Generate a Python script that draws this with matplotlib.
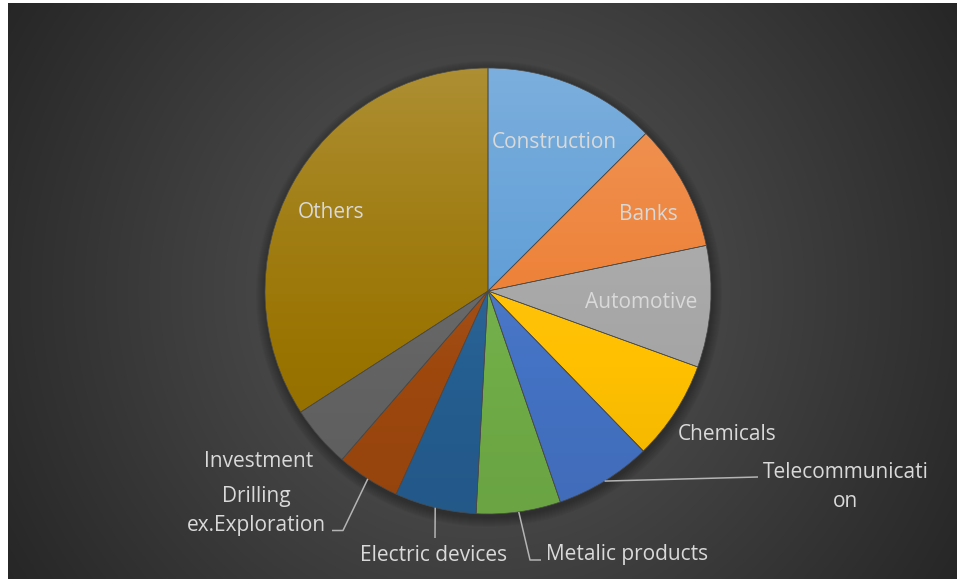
import numpy as np
import matplotlib
matplotlib.use("Agg")
import matplotlib.pyplot as plt
from matplotlib.patches import Circle
from matplotlib.colors import to_rgb

# ---------------- data ----------------
categories = ["Construction", "Banks", "Automotive", "Chemicals", "Telecommunication",
              "Metalic products", "Electric devices", "Drilling ex.Exploration",
              "Investment", "Others"]
shares = [12.5, 9.2, 8.8, 7.2, 7.0, 6.1, 5.9, 4.6, 4.5, 34.1]
label_texts = ["Construction", "Banks", "Automotive", "Chemicals", "Telecommunicati\non",
               "Metalic products", "Electric devices", "Drilling\nex.Exploration",
               "Investment", "Others"]

# ---------------- style / layout ----------------
colors = ["#5B9BD5", "#ED7D31", "#A5A5A5", "#FFC000", "#4472C4",
          "#70AD47", "#255E91", "#9E480E", "#636363", "#997300"]
W, H = 957, 579
CX, CY_IMG, R = 488, 291, 223
CY = H - CY_IMG
FONT = "Open Sans"
FS = 15
TXT = "#D9D9D9"
LINE_GAP = 29
TEXT_DY = 2.5
# label centre positions in image pixel coords (layout)
label_pos = [(554, 140), (648, 212), (641, 300), (727, 432), (846, 484.5),
             (627, 552), (434, 553), (256, 508.5), (259, 459), (331, 210)]
# leader line waypoints (image coords), None when label sits inside
leaders = [None, None, None, None, [(758, 477)],
           [(530, 560), (541, 560)], [(435, 538)], [(343, 530.5), (332, 530.5)],
           None, None]

fig = plt.figure(figsize=(W / 100, H / 100), dpi=100)
ax = fig.add_axes([0, 0, 1, 1])

# background: radial gradient, white margin on left/top
yy, xx = np.mgrid[0:H, 0:W]
d = np.sqrt((xx - 482) ** 2 + (yy - 291) ** 2) / np.sqrt(478 ** 2 + 290 ** 2)
d = np.clip(d, 0, 1)
inner, outer = 0x5A / 255, 0x26 / 255
g = inner + (outer - inner) * d
bg = np.dstack([g, g, g])
bg[:, :8] = 1.0
bg[:3, :] = 1.0
ax.imshow(bg, extent=(0, W, 0, H), origin="upper", zorder=0, interpolation="bilinear")

# soft shadow around the pie
for k in range(1, 11):
    ax.add_patch(Circle((CX + 1, CY - 3), R + k, facecolor="black", edgecolor="none",
                        alpha=0.03, zorder=1))

wedges, _ = ax.pie(shares, startangle=90, counterclock=False, center=(CX, CY), radius=R,
                   colors=colors, wedgeprops=dict(linewidth=0.5, edgecolor="#4a4a4a"))

# vertical gradient on each slice
n = 256
t = np.linspace(0, 1, n)[:, None]
for w, c in zip(wedges, colors):
    base = np.array(to_rgb(c))
    a = 0.2 * (1 - t) ** 1.6 - 0.05 * t
    img = np.where(a >= 0, base * (1 - a) + a, base * (1 + a))
    img = np.repeat(img[:, None, :], 2, axis=1)
    im = ax.imshow(img, extent=(CX - R, CX + R, CY - R, CY + R), origin="upper",
                   zorder=2, interpolation="bilinear")
    im.set_clip_path(w)
    w.set_facecolor("none")
    w.set_zorder(3)

# labels
for txt, (lx, ly) in zip(label_texts, label_pos):
    lines = txt.split("\n")
    n_l = len(lines)
    for i, ln in enumerate(lines):
        yi = ly + (i - (n_l - 1) / 2) * LINE_GAP + TEXT_DY
        ax.text(lx, H - yi, ln, ha="center", va="center", color=TXT, fontsize=FS,
                family=FONT, zorder=5)

# leader lines
for w, pts in zip(wedges, leaders):
    if pts is None:
        continue
    mid = np.deg2rad((w.theta1 + w.theta2) / 2)
    xs = [CX + R * np.cos(mid)] + [p[0] for p in pts]
    ys = [CY + R * np.sin(mid)] + [H - p[1] for p in pts]
    ax.plot(xs, ys, color="#B4B4B4", lw=1.1, zorder=4, solid_capstyle="butt")

ax.set_xlim(0, W)
ax.set_ylim(0, H)
ax.set_aspect("equal")
ax.axis("off")
fig.savefig("out.png", dpi=100)
